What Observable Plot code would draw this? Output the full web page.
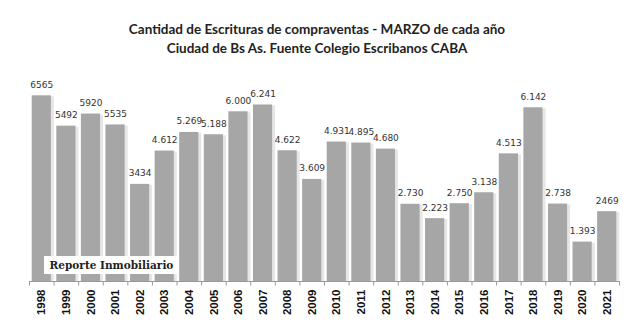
<!DOCTYPE html>
<html><head><meta charset="utf-8">
<script src="https://cdn.jsdelivr.net/npm/d3@7"></script>
<script src="https://cdn.jsdelivr.net/npm/@observablehq/plot@0.6"></script>
<style>
body{margin:0;background:#fff;}
#wrap{position:relative;width:641px;height:335px;overflow:hidden;}
#titles{height:60px;font-family:Lato,"Open Sans",sans-serif;font-weight:700;font-size:13.5px;color:#222;text-align:center;}
#t1{position:absolute;left:0;width:634px;top:21px;}
#t2{position:absolute;left:0;width:634px;top:40px;}
#wm{position:absolute;left:44px;top:256px;width:135px;height:18px;background:#fff;font-family:"DejaVu Serif",serif;font-weight:700;font-size:10.5px;line-height:18px;text-align:center;color:#222;white-space:nowrap;}
</style></head>
<body>
<div id="wrap">
<div id="titles"><div id="t1">Cantidad de Escrituras de compraventas - MARZO de cada año</div><div id="t2">Ciudad de Bs As. Fuente Colegio Escribanos CABA</div></div>
<div id="chart"></div>
<div id="wm">Reporte Inmobiliario</div>
</div>
<script>
const years = ["1998","1999","2000","2001","2002","2003","2004","2005","2006","2007","2008","2009","2010","2011","2012","2013","2014","2015","2016","2017","2018","2019","2020","2021"];
const values = [6565,5492,5920,5535,3434,4612,5269,5188,6000,6241,4622,3609,4931,4895,4680,2730,2223,2750,3138,4513,6142,2738,1393,2469];
const labels = ["6565","5492","5920","5535","3434","4.612","5.269","5.188","6.000","6.241","4.622","3.609","4.931","4.895","4.680","2.730","2.223","2.750","3.138","4.513","6.142","2.738","1.393","2469"];
const data = years.map((y,i)=>({year:y, value:values[i], label:labels[i]}));
const W=641,H=275,mL=29,mR=22;
const step=(W-mL-mR)/years.length;
const plot = Plot.plot({
  width:W, height:H,
  marginLeft:mL, marginRight:mR, marginTop:23, marginBottom:54,
  style:{background:"#fff"},
  x:{domain:years, paddingInner:0.22, paddingOuter:0.11, round:false, label:null},
  y:{domain:[0,7000], axis:null},
  marks:[
    Plot.barY(data,{x:"year",y:"value",fill:"#e6e6e6",dx:3,dy:1}),
    Plot.barY(data,{x:"year",y:"value",fill:"#a6a6a6"}),
    Plot.ruleY([0],{stroke:"#9a9a9a"}),
    Plot.ruleX(years,{x:d=>d,dx:-step/2,y1:0,y2:-160,stroke:"#9a9a9a"}),
    Plot.ruleX([years[years.length-1]],{x:d=>d,dx:step/2,y1:0,y2:-160,stroke:"#9a9a9a"}),
    Plot.text(data,{x:"year",y:"value",text:"label",dy:-11,fill:"#333",fontSize:9,fontFamily:"DejaVu Sans"}),
    Plot.axisX({tickSize:0,tickPadding:8,tickRotate:-90,fontSize:11.5,fontWeight:"bold",fontFamily:"Liberation Sans, Arial",fill:"#111",label:null})
  ]
});
document.getElementById("chart").appendChild(plot);
</script>
</body></html>
